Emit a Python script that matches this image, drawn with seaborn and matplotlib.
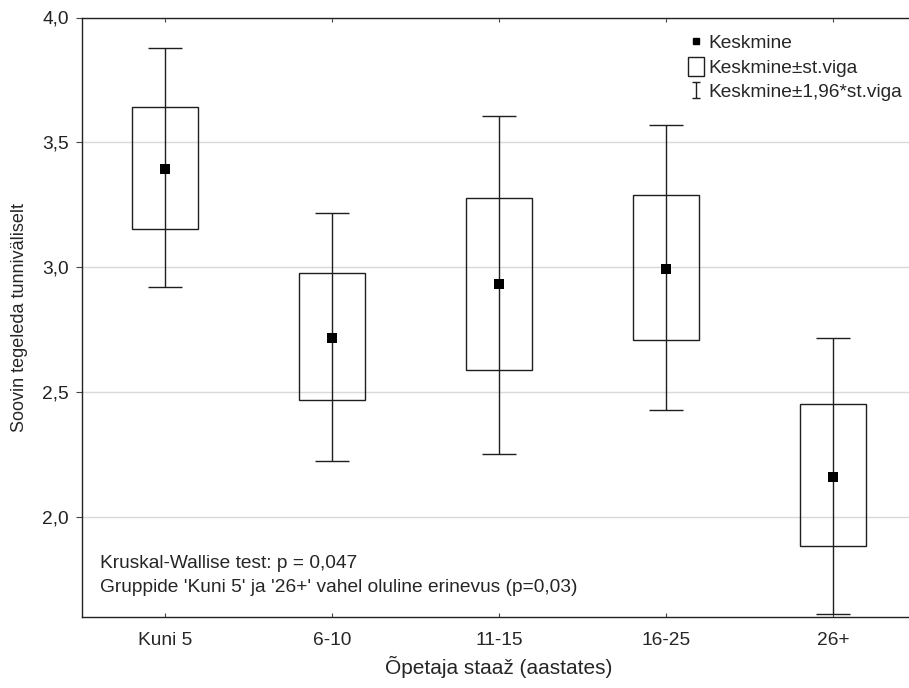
import numpy as np
import pandas as pd
import matplotlib
matplotlib.use("Agg")
import matplotlib.pyplot as plt
import seaborn as sns
from matplotlib.patches import Rectangle
from matplotlib.lines import Line2D
from matplotlib.path import Path

# values
groups = ["Kuni 5", "6-10", "11-15", "16-25", "26+"]
means = [3.394, 2.718, 2.932, 2.995, 2.162]
se_low = [3.153, 2.469, 2.589, 2.707, 1.886]
se_high = [3.642, 2.977, 3.278, 3.291, 2.451]
ci_low = [2.923, 2.225, 2.254, 2.427, 1.614]
ci_high = [3.879, 3.219, 3.606, 3.569, 2.717]

y_ticks = [2.0, 2.5, 3.0, 3.5, 4.0]
y_tick_labels = ["2,0", "2,5", "3,0", "3,5", "4,0"]

df = pd.DataFrame({"group": groups, "mean": means,
                   "se_low": se_low, "se_high": se_high,
                   "ci_low": ci_low, "ci_high": ci_high})

sns.set_style("white")
plt.rcParams["font.family"] = ["Liberation Sans", "DejaVu Sans"]

line_col = "#1e1e1e"
fs = 13.8

fig = plt.figure(figsize=(9.09, 6.88), dpi=100)
ax = fig.add_axes([81.5 / 909, 71 / 688, 835 / 909, 599.5 / 688])

x = np.arange(len(groups))

# whiskers (mean +- 1.96*se)
ax.errorbar(x, df["mean"],
            yerr=[df["mean"] - df["ci_low"], df["ci_high"] - df["mean"]],
            fmt="none", ecolor=line_col, elinewidth=1.0, capsize=12,
            capthick=1.0, zorder=2)

# boxes (mean +- se)
ax.bar(x, df["se_high"] - df["se_low"], bottom=df["se_low"], width=0.40,
       fill=False, edgecolor=line_col, linewidth=1.0, zorder=3)

# means
sns.scatterplot(x=x, y=df["mean"], marker="s", s=45, color="black",
                edgecolor="black", linewidth=0, ax=ax, zorder=4, legend=False)

ax.set_xlim(-0.5, 4.5)
ax.set_ylim(1.6, 4.0)
ax.set_xticks(x)
ax.set_xticklabels(groups, fontsize=fs)
ax.set_yticks(y_ticks)
ax.set_yticklabels(y_tick_labels, fontsize=fs, color="#222222")
ax.yaxis.grid(True, color="#d9d9d9", linewidth=1.0)
ax.set_axisbelow(True)

for side in ["left", "top", "bottom"]:
    ax.spines[side].set_color("#222222")
    ax.spines[side].set_linewidth(1.0)
ax.spines["right"].set_visible(False)

ax.tick_params(axis="x", bottom=True, top=True, direction="in", length=3,
               color="#444444", pad=11)
ax.tick_params(axis="y", left=True, direction="out", length=4,
               color="#444444", pad=5)

ax.set_xlabel("Õpetaja staaž (aastates)", fontsize=15, labelpad=5)
ax.set_ylabel("Soovin tegeleda tunniväliselt", fontsize=13, labelpad=10)

ax.text(0.022, 0.090, "Kruskal-Wallise test: p = 0,047",
        transform=ax.transAxes, fontsize=fs, va="center")
ax.text(0.022, 0.050, "Gruppide 'Kuni 5' ja '26+' vahel oluline erinevus (p=0,03)",
        transform=ax.transAxes, fontsize=fs, va="center")

# legend
ibar = Path([(-0.5, -1), (0.5, -1), (0, -1), (0, 1), (-0.5, 1), (0.5, 1)],
            [Path.MOVETO, Path.LINETO, Path.MOVETO, Path.LINETO,
             Path.MOVETO, Path.LINETO])
h_mean = Line2D([], [], linestyle="none", marker="s", markersize=5,
                color="black")
h_box = Rectangle((0, 0), 1, 1, fill=False, edgecolor=line_col, linewidth=1.0)
h_err = Line2D([], [], linestyle="none", marker=ibar, markersize=12,
               markeredgecolor=line_col, markerfacecolor="none",
               markeredgewidth=1.0)
ax.legend([h_mean, h_box, h_err],
          ["Keskmine", "Keskmine±st.viga", "Keskmine±1,96*st.viga"],
          loc="upper left", bbox_to_anchor=(0.71, 0.997), frameon=False,
          fontsize=fs, handlelength=0.85, handleheight=1.1, handletextpad=0.25,
          labelspacing=0.25, borderpad=0.2)

fig.savefig("out.png", dpi=100)
